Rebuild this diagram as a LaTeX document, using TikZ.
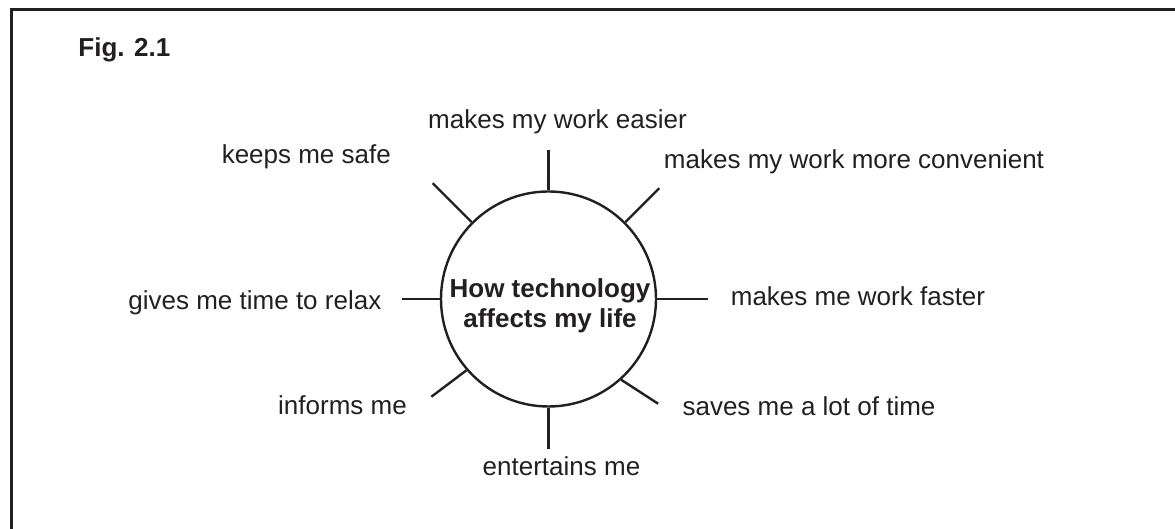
\documentclass[tikz,border=0pt]{standalone}
\usepackage{fontspec}
\setmainfont{Liberation Sans}
\usepackage{tikz}
\newcommand{\labelfont}{\fontsize{13}{15}\selectfont}
\definecolor{InkGray}{HTML}{231F20}

\begin{document}
\begin{tikzpicture}[
  x=0.5pt, y=0.5pt,
  hub/.style={circle, draw=InkGray, line width=1.2pt, minimum size=107.5pt, inner sep=0pt},
  hubtext/.style={align=center, inner sep=0pt, text=InkGray, font=\labelfont\bfseries},
  leaf/.style={anchor=base, inner sep=0pt, text=InkGray, font=\labelfont},
  spoke/.style={draw=InkGray, line width=1.2pt}
]
\useasboundingbox (0,0) rectangle (1175,529);
\draw[InkGray, line width=1.5pt] (11.3,0) -- (11.3,519.3) -- (1175,519.3);

\node (fig) [leaf, anchor=base west, font=\labelfont\bfseries] at (78,472) {Fig. 2.1};

\node (hub) [hub] at (548.5,230) {};
\node (core) [hubtext] at (550,223) {How technology\\affects my life};

\node (n0) [leaf] at (557.5,400.7) {makes my work easier};
\node (n1) [leaf] at (854,360) {makes my work more convenient};
\node (n2) [leaf] at (858,223) {makes me work faster};
\node (n3) [leaf] at (809,113.3) {saves me a lot of time};
\node (n4) [leaf] at (561.5,53) {entertains me};
\node (n5) [leaf] at (342.5,114) {informs me};
\node (n6) [leaf, anchor=base east] at (381.7,219.7) {gives me time to relax};
\node (n7) [leaf] at (306.3,365.7) {keeps me safe};

\foreach \a/\d/\l in {90/90/40, 45/45/48, 0/0/51, 312/327/44, 270/270/41, 221/217/44, 180/180/38, 135/135/55}
  \draw[spoke] (hub.\a) -- ++(\d:\l);
\end{tikzpicture}
\end{document}
